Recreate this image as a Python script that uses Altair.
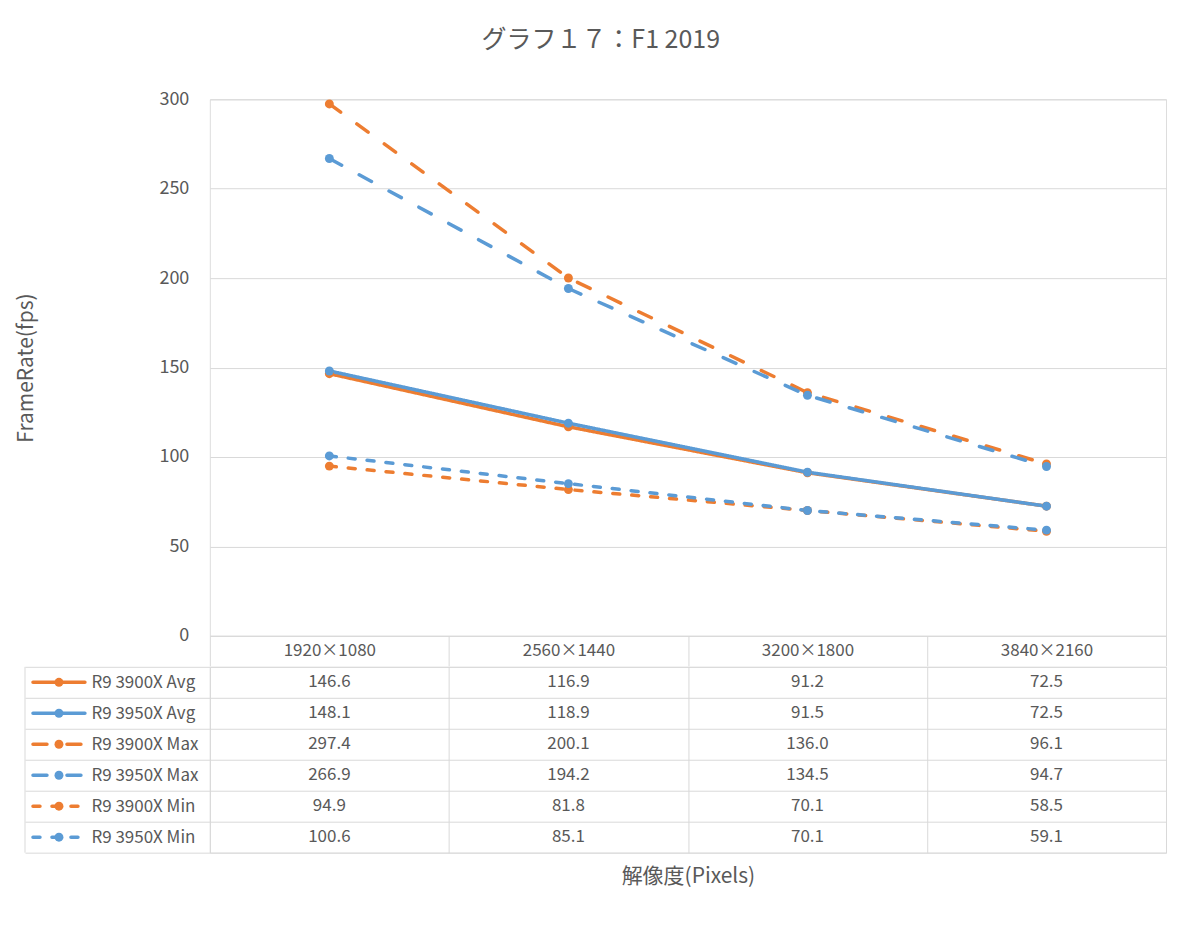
import altair as alt
import pandas as pd

categories = ["1920×1080", "2560×1440", "3200×1800", "3840×2160"]
series = ["R9 3900X Avg", "R9 3950X Avg", "R9 3900X Max", "R9 3950X Max", "R9 3900X Min", "R9 3950X Min"]
v_3900x_avg = [146.6, 116.9, 91.2, 72.5]
v_3950x_avg = [148.1, 118.9, 91.5, 72.5]
v_3900x_max = [297.4, 200.1, 136.0, 96.1]
v_3950x_max = [266.9, 194.2, 134.5, 94.7]
v_3900x_min = [94.9, 81.8, 70.1, 58.5]
v_3950x_min = [100.6, 85.1, 70.1, 59.1]
y_ticks = [0, 50, 100, 150, 200, 250, 300]

ORANGE = "#ED7D31"
BLUE = "#5B9BD5"
colors = [ORANGE, BLUE, ORANGE, BLUE, ORANGE, BLUE]
dashes = [[1, 0], [1, 0], [14, 20], [14, 20], [7, 12], [7, 12]]
GRID = "#d9d9d9"
TXT = "#595959"
FONT = "Noto Sans CJK JP"

values = [v_3900x_avg, v_3950x_avg, v_3900x_max, v_3950x_max, v_3900x_min, v_3950x_min]
rows = []
for s, vals in zip(series, values):
    for c, v in zip(categories, vals):
        rows.append({"series": s, "category": c, "value": v})
df = pd.DataFrame(rows)
legend_df = pd.DataFrame({"series": series})
border_df = pd.DataFrame({"k": [0]})

color_scale = alt.Scale(domain=series, range=colors)
dash_scale = alt.Scale(domain=series, range=dashes)
x_scale = alt.Scale(type="band", domain=categories, paddingInner=0, paddingOuter=0)
y_row_scale = alt.Scale(type="band", domain=series, paddingInner=0, paddingOuter=0)

PLOT_W = 957

line = alt.Chart(df).mark_line(
    strokeWidth=3.5, strokeCap="round", strokeJoin="round",
    point=alt.OverlayMarkDef(filled=True, size=80, opacity=1),
).encode(
    x=alt.X("category:N", scale=x_scale, sort=categories,
            axis=alt.Axis(title=None, orient="bottom", domain=True, domainColor=GRID,
                          ticks=True, tickBand="extent", tickSize=30, tickColor=GRID,
                          labelAngle=0, labelBaseline="middle", labelPadding=-15,
                          labelFontSize=17, labelColor=TXT, labelFont=FONT, grid=False)),
    y=alt.Y("value:Q", scale=alt.Scale(domain=[0, 300]),
            axis=alt.Axis(values=y_ticks, title="FrameRate(fps)", grid=True, gridColor=GRID,
                          domain=False, ticks=False, labelPadding=21, labelFontSize=18,
                          labelColor=TXT, labelFont=FONT, titleFontSize=21, titleColor=TXT,
                          titleFont=FONT, titleFontWeight="normal", titlePadding=123)),
    color=alt.Color("series:N", scale=color_scale, legend=None),
    strokeDash=alt.StrokeDash("series:N", scale=dash_scale, legend=None),
).properties(width=PLOT_W, height=537)

cells = alt.Chart(df).mark_text(fontSize=17, color=TXT, font=FONT).encode(
    x=alt.X("category:N", scale=x_scale, sort=categories,
            axis=alt.Axis(title="解像度(Pixels)", orient="bottom", labels=False, ticks=False,
                          domain=False, grid=True, tickBand="extent", gridColor=GRID,
                          titleFontSize=21, titleColor=TXT, titleFont=FONT,
                          titleFontWeight="normal", titlePadding=13)),
    y=alt.Y("series:N", scale=y_row_scale, sort=series,
            axis=alt.Axis(title=None, grid=True, gridColor=GRID, tickBand="extent",
                          ticks=True, tickSize=185, tickColor=GRID, domain=False,
                          labelAlign="left", labelPadding=-66, labelFontSize=17,
                          labelColor=TXT, labelFont=FONT)),
    text=alt.Text("value:Q", format=".1f"),
)

keys = alt.Chart(legend_df).mark_rule(strokeWidth=3.5, strokeCap="round").encode(
    x=alt.value(-177), x2=alt.value(-125),
    y=alt.Y("series:N", scale=y_row_scale, sort=series, bandPosition=0.5),
    color=alt.Color("series:N", scale=color_scale, legend=None),
    strokeDash=alt.StrokeDash("series:N", scale=dash_scale, legend=None),
)
dots = alt.Chart(legend_df).mark_circle(size=80, opacity=1).encode(
    x=alt.value(-151),
    y=alt.Y("series:N", scale=y_row_scale, sort=series, bandPosition=0.5),
    color=alt.Color("series:N", scale=color_scale, legend=None),
)
left_border = alt.Chart(border_df).mark_rule(color=GRID, strokeWidth=1).encode(
    x=alt.value(-185), y=alt.value(0), y2=alt.value(186)
)

table = alt.layer(cells, keys, dots, left_border).properties(width=PLOT_W, height=186)

chart = alt.vconcat(line, table, spacing=-10).properties(
    title=alt.TitleParams("グラフ１７：F1 2019", fontSize=25, color=TXT, font=FONT,
                          fontWeight="normal", anchor="middle", frame="bounds",
                          offset=37, dx=10),
    padding={"left": 6, "top": 19, "right": 25, "bottom": 20},
).configure_view(strokeWidth=0).configure(background="white")

chart.save("out.html", embed_options={"renderer": "svg", "actions": False})
